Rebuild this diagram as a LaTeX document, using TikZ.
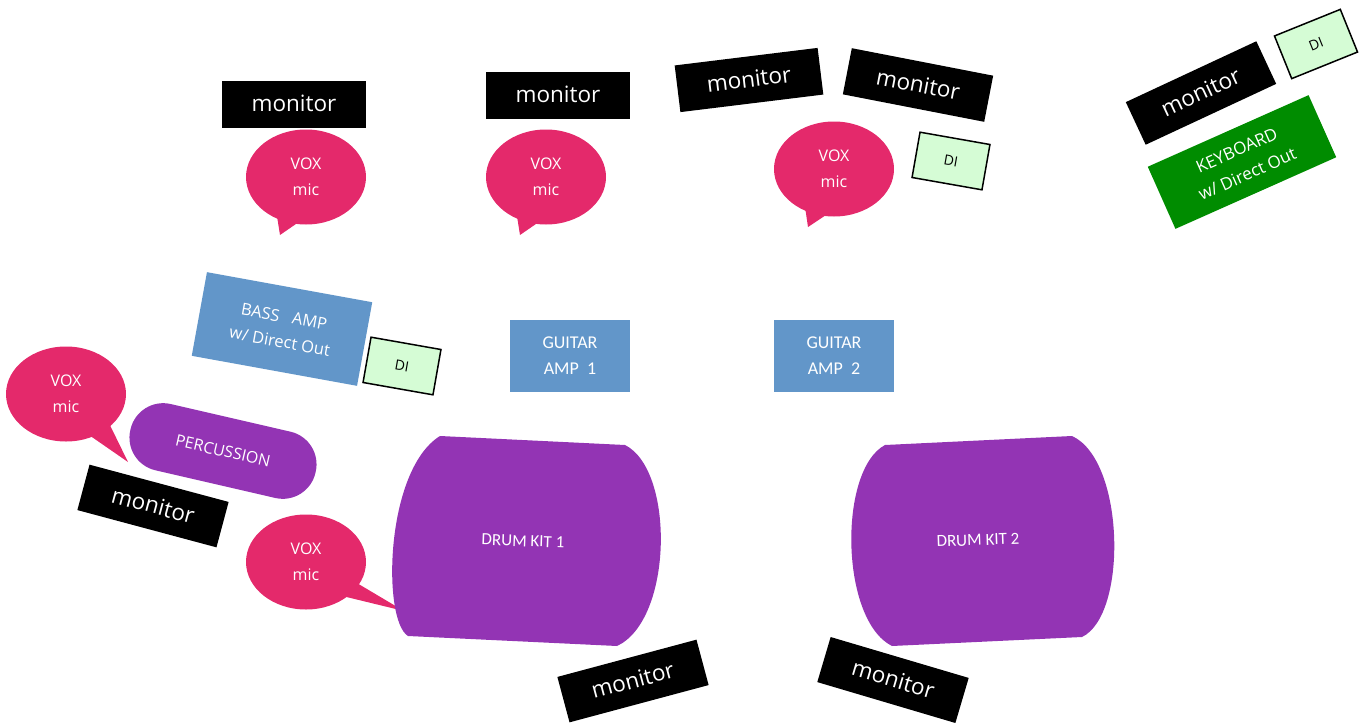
\documentclass[tikz,border=0pt]{standalone}
\usepackage{fontspec}
\setmainfont{Open Sans}
\newfontfamily\calibfont{Carlito}
\usetikzlibrary{shapes.geometric,calc}

\definecolor{voxpink}{RGB}{228,41,107}
\definecolor{ampblue}{RGB}{98,150,201}
\definecolor{drumpurple}{RGB}{147,52,180}
\definecolor{keygreen}{RGB}{0,140,0}
\definecolor{digreen}{RGB}{213,252,213}

\tikzset{
  monitorbox/.style={fill=black,text=white,minimum width=144pt,minimum height=47pt,inner sep=0pt,text depth=2pt,font=\fontsize{22.5}{26}\selectfont},
  voxmic/.style={ellipse,fill=voxpink,text=white,minimum width=120pt,minimum height=95pt,inner sep=0pt,align=center,font=\fontsize{16}{26}\selectfont},
  ampbox/.style={fill=ampblue,text=white,inner sep=0pt,align=center},
  dibox/.style={draw=black,line width=1.5pt,fill=digreen,minimum width=71pt,minimum height=46pt,inner sep=0pt,font=\fontsize{14}{16}\selectfont},
  drumtext/.style={text=white,font=\calibfont\fontsize{17}{20}\selectfont}
}

\begin{document}
\begin{tikzpicture}[x=1pt,y=-1pt]
    \useasboundingbox (0,0) rectangle (1361,723);

    % monitors
    \node[monitorbox] (mon1) at (294,104) {monitor};
    \node[monitorbox] (mon2) at (558,95) {monitor};
    \node[monitorbox,rotate=7] (mon3) at (749,80) {monitor};
    \node[monitorbox,rotate=-11] (mon4) at (918,85) {monitor};
    \node[monitorbox,rotate=25] (mon5) at (1201,93) {monitor};
    \node[monitorbox,rotate=-15] (mon6) at (153,506) {monitor};
    \node[monitorbox,rotate=15] (mon7) at (633,681) {monitor};
    \node[monitorbox,rotate=-16.5] (mon8) at (893,680) {monitor};

    % vox mics
    \node[voxmic] (vox1) at (306,177) {VOX\\mic};
    \node[voxmic] (vox2) at (546,177) {VOX\\mic};
    \node[voxmic] (vox3) at (834,169) {VOX\\mic};
    \node[voxmic] (vox4) at (66,394) {VOX\\mic};
    \node[voxmic] (vox5) at (306,562) {VOX\\mic};
    \coordinate (tip1) at (280,235);
    \coordinate (tip2) at (520,235);
    \coordinate (tip3) at (808,227);
    \coordinate (tip4) at (128,462);
    \coordinate (tip5) at (404,611);
    \fill[voxpink] ($(vox1)+(-30,33)$) -- (tip1) -- ($(vox1)+(3,38)$) -- cycle;
    \fill[voxpink] ($(vox2)+(-30,33)$) -- (tip2) -- ($(vox2)+(3,38)$) -- cycle;
    \fill[voxpink] ($(vox3)+(-30,31)$) -- (tip3) -- ($(vox3)+(4,38)$) -- cycle;
    \fill[voxpink] ($(vox4)+(39,21)$) -- (tip4) -- ($(vox4)+(10,32)$) -- cycle;
    \fill[voxpink] ($(vox5)+(34,11)$) -- (tip5) -- ($(vox5)+(24,31)$) -- cycle;

    % amps
    \node[ampbox,minimum width=168pt,minimum height=85pt,rotate=-10.3,font=\fontsize{16.5}{25}\selectfont] (bass) at (282,329) {BASS\ \ \ AMP\\w/ Direct Out};
    \node[ampbox,minimum width=120pt,minimum height=72pt,font=\calibfont\fontsize{18}{26}\selectfont] (gtr1) at (570,356) {GUITAR\\AMP\ \ 1};
    \node[ampbox,minimum width=120pt,minimum height=72pt,font=\calibfont\fontsize{18}{26}\selectfont] (gtr2) at (834,356) {GUITAR\\AMP\ \ 2};

    % DI boxes
    \node[dibox,rotate=-10] (di1) at (402,366) {DI};
    \node[dibox,rotate=-10] (di2) at (951,161) {DI};
    \node[dibox,rotate=22] (di3) at (1316,44) {DI};

    % keyboard
    \node[fill=keygreen,text=white,minimum width=176pt,minimum height=68pt,inner sep=0pt,align=center,rotate=24,font=\fontsize{17}{26}\selectfont] (keys) at (1242,162) {KEYBOARD\\w/ Direct Out};

    % percussion
    \node[fill=drumpurple,text=white,rounded corners=33.5pt,minimum width=190pt,minimum height=68pt,inner sep=0pt,rotate=-13,font=\fontsize{16}{20}\selectfont] (perc) at (223,451) {PERCUSSION};

    % drum kits
    \fill[drumpurple] (440,436) -- (625,445) .. controls (675,470) and (673,620) .. (617,646)
        -- (408,636) .. controls (382,620) and (385,470) .. (440,436) -- cycle;
    \fill[drumpurple] (885,445) -- (1072,436) .. controls (1125,460) and (1128,615) .. (1082,637)
        -- (892,646) .. controls (840,620) and (838,470) .. (885,445) -- cycle;
    \node[drumtext,rotate=-2] (kit1) at (523,541) {DRUM KIT 1};
    \node[drumtext,rotate=2] (kit2) at (978,540) {DRUM KIT 2};
\end{tikzpicture}
\end{document}
